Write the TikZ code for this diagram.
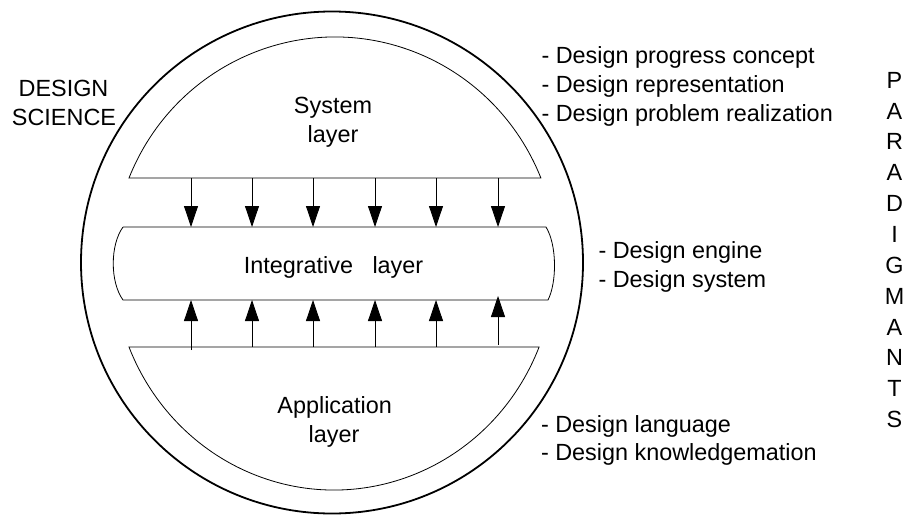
\documentclass[tikz,border=0pt]{standalone}
\usepackage{fontspec}
\setmainfont{Liberation Sans}
\usetikzlibrary{arrows.meta}
\begin{document}
\begin{tikzpicture}[x=1pt,y=-1pt,
  lbl/.style={font=\fontsize{23.4}{28}\selectfont, inner sep=0pt, outer sep=0pt},
  layerline/.style={draw, line width=0.8pt},
  flow/.style={line width=0.8pt, -{Triangle[length=21pt,width=14pt]}}
]
\useasboundingbox (0,0) rectangle (912,514);

% outer circle
\draw[line width=1.8pt] (332,262.5) circle[radius=251];

% system layer
\draw[layerline] (129,178) arc[start angle=201.92, end angle=338.08, x radius=222, y radius=225] -- cycle;
% application layer
\draw[layerline] (539.1,347) arc[start angle=21.89, end angle=158.11, x radius=221, y radius=228] -- cycle;
% integrative layer
\draw[layerline] (123,227) -- (546,227) .. controls (557,245) and (557,282) .. (548,300)
  -- (123,300) .. controls (110,282) and (110,245) .. (123,227);

% connector coordinates
\foreach \x [count=\i] in {191,252,313,375,436,498} {
  \coordinate (sb\i) at (\x,178);
  \coordinate (it\i) at (\x,227);
  \coordinate (ib\i) at (\x,300);
  \coordinate (at\i) at (\x,347);
}
\coordinate (at1) at (191,350);
\coordinate (at6) at (498,345);
\coordinate (ib6) at (498,296);

\foreach \i in {1,...,6} {
  \draw[flow] (sb\i) -- (it\i);
  \draw[flow] (at\i) -- (ib\i);
}

% labels
\node[lbl, anchor=base] (ds1) at (63.5,96.5) {DESIGN};
\node[lbl, anchor=base] (ds2) at (64,125) {SCIENCE};
\node[lbl, anchor=base] (sys1) at (333,113.5) {System};
\node[lbl, anchor=base] (sys2) at (333,142) {layer};
\node[lbl, anchor=base] (int) at (333.5,273) {Integrative\ \ \ layer};
\node[lbl, anchor=base] (app1) at (334.7,413) {Application};
\node[lbl, anchor=base] (app2) at (334,442) {layer};

\node[lbl, anchor=base west] (r1) at (541.5,63.5) {- Design progress concept};
\node[lbl, anchor=base west] (r2) at (541.5,92.3) {- Design representation};
\node[lbl, anchor=base west] (r3) at (541.5,121) {- Design problem realization};
\node[lbl, anchor=base west] (e1) at (598.5,258.5) {- Design engine};
\node[lbl, anchor=base west] (e2) at (598.5,287) {- Design system};
\node[lbl, anchor=base west] (l1) at (541,432) {- Design language};
\node[lbl, anchor=base west] (l2) at (541,460.5) {- Design knowledgemation};

\foreach \c [count=\i] in {P,A,R,A,D,I,G,M,A,N,T,S} {
  \node[lbl, anchor=base] (pg\i) at (894.5,{88.3+(\i-1)*30.84}) {\c};
}
\end{tikzpicture}
\end{document}
